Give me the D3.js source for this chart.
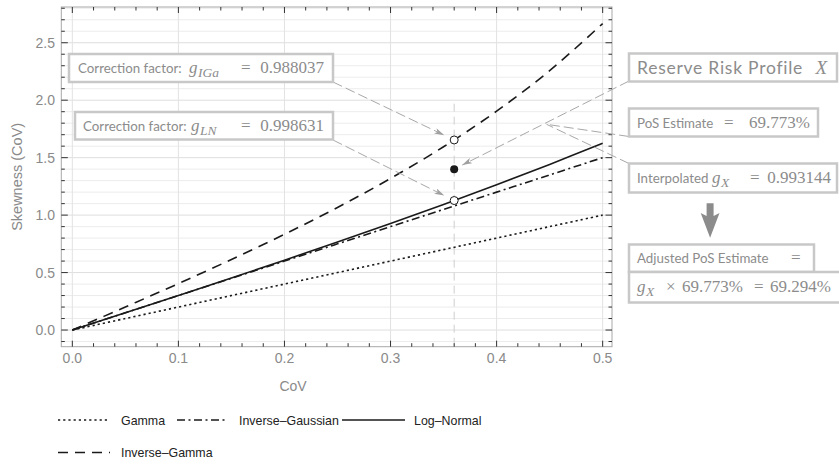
<!DOCTYPE html>
<html>
<head>
<meta charset="utf-8">
<script src="https://cdn.jsdelivr.net/npm/d3@7"></script>
<style>
  html, body { margin: 0; padding: 0; background: #fff; }
  svg { display: block; }
</style>
</head>
<body>
<svg id="chart" width="839" height="464"></svg>
<script>
// Skewness as a function of the coefficient of variation, per distribution
const cov         = [0, 0.05, 0.10, 0.15, 0.20, 0.25, 0.30, 0.35, 0.40, 0.45, 0.50];
const gamma       = [0, 0.100, 0.200, 0.300, 0.400, 0.500, 0.600, 0.700, 0.800, 0.900, 1.000];
const invGaussian = [0, 0.150, 0.300, 0.450, 0.600, 0.750, 0.900, 1.050, 1.200, 1.350, 1.500];
const logNormal   = [0, 0.150, 0.301, 0.453, 0.608, 0.766, 0.927, 1.093, 1.264, 1.441, 1.625];
const invGamma    = [0, 0.201, 0.404, 0.614, 0.833, 1.067, 1.319, 1.595, 1.905, 2.257, 2.667];

const seriesNames = ["Gamma", "Inverse\u2013Gaussian", "Log\u2013Normal", "Inverse\u2013Gamma"];

// Reserve risk profile X
const profileCoV   = 0.36;
const skewIGa      = 1.654;
const skewLN       = 1.127;
const skewProfile  = 1.40;

const xTicks = [0, 0.1, 0.2, 0.3, 0.4, 0.5];
const yTicks = [0, 0.5, 1.0, 1.5, 2.0, 2.5];
const xTickLabels = ["0.0", "0.1", "0.2", "0.3", "0.4", "0.5"];
const yTickLabels = ["0.0", "0.5", "1.0", "1.5", "2.0", "2.5"];

const svg = d3.select("#chart");
const L = 61.3, R = 612, T = 7, B = 346.7;

const x = d3.scaleLinear().domain([-0.0104, 0.5088]).range([L, R]);
const y = d3.scaleLinear().domain([-0.145, 2.811]).range([B, T]);

const dashes = {
  "Gamma": "2.2,3",
  "Inverse\u2013Gaussian": "8,3.5,2,3.5",
  "Log\u2013Normal": null,
  "Inverse\u2013Gamma": "10,7"
};
const seriesValues = [gamma, invGaussian, logNormal, invGamma];

// grid
const grid = svg.append("g");
const yMinor = d3.range(-1, 29).map(i => i / 10);
grid.selectAll(".gy").data(yMinor).join("line")
  .attr("x1", L).attr("x2", R)
  .attr("y1", d => y(d)).attr("y2", d => y(d))
  .attr("stroke", d => (Math.round(d * 10) % 5 === 0) ? "#dedede" : "#ececec")
  .attr("stroke-width", 1);
grid.selectAll(".gx").data(xTicks).join("line")
  .attr("y1", T).attr("y2", B)
  .attr("x1", d => x(d)).attr("x2", d => x(d))
  .attr("stroke", "#e2e2e2").attr("stroke-width", 1);

// profile guide line
svg.append("line")
  .attr("x1", x(profileCoV)).attr("x2", x(profileCoV))
  .attr("y1", y(1.97)).attr("y2", B)
  .attr("stroke", "#cfcfcf").attr("stroke-width", 1)
  .attr("stroke-dasharray", "8,5");

// frame
svg.append("rect").attr("x", L).attr("y", T).attr("width", R - L).attr("height", B - T)
  .attr("fill", "none").attr("stroke", "#a8a8a8").attr("stroke-width", 1);

// ticks on all four sides, pointing inward
const ticks = svg.append("g").attr("stroke", "#333").attr("stroke-width", 1);
const xMinor = d3.range(0, 26).map(i => i / 50);
const xMajorSet = new Set(xTicks.map(d => d.toFixed(2)));
const yMajorSet = new Set(yTicks.map(d => d.toFixed(1)));
xMinor.forEach(v => {
  const len = xMajorSet.has(v.toFixed(2)) ? 6 : 3.5;
  ticks.append("line").attr("x1", x(v)).attr("x2", x(v)).attr("y1", B).attr("y2", B - len);
  ticks.append("line").attr("x1", x(v)).attr("x2", x(v)).attr("y1", T).attr("y2", T + len);
});
yMinor.forEach(v => {
  const len = yMajorSet.has(v.toFixed(1)) ? 6.5 : 3.5;
  ticks.append("line").attr("y1", y(v)).attr("y2", y(v)).attr("x1", L).attr("x2", L + len);
  ticks.append("line").attr("y1", y(v)).attr("y2", y(v)).attr("x1", R).attr("x2", R - len);
});

// tick labels
const tickFont = "'Liberation Sans', Arial, sans-serif";
svg.append("g").selectAll("text").data(xTicks).join("text")
  .attr("x", d => x(d)).attr("y", 363)
  .attr("text-anchor", "middle")
  .attr("font-family", tickFont).attr("font-size", 14).attr("fill", "#8a8a8a")
  .text((d, i) => xTickLabels[i]);
svg.append("g").selectAll("text").data(yTicks).join("text")
  .attr("x", 55).attr("y", d => y(d) + 5)
  .attr("text-anchor", "end")
  .attr("font-family", tickFont).attr("font-size", 14).attr("fill", "#8a8a8a")
  .text((d, i) => yTickLabels[i]);

// axis titles
svg.append("text").attr("x", 293).attr("y", 391)
  .attr("text-anchor", "middle").attr("font-family", tickFont).attr("font-size", 14)
  .attr("fill", "#8a8a8a").text("CoV");
svg.append("text").attr("transform", `translate(22,${(T + B) / 2}) rotate(-90)`)
  .attr("text-anchor", "middle").attr("font-family", tickFont).attr("font-size", 14.5)
  .attr("fill", "#8a8a8a").text("Skewness (CoV)");

// curves
const line = d3.line().x(d => x(d[0])).y(d => y(d[1])).curve(d3.curveCatmullRom);
const curves = svg.append("g");
seriesNames.forEach((name, i) => {
  const pts = cov.map((c, j) => [c, seriesValues[i][j]]);
  curves.append("path").datum(pts)
    .attr("d", line)
    .attr("fill", "none").attr("stroke", "#1a1a1a").attr("stroke-width", 1.6)
    .attr("stroke-dasharray", dashes[name]);
});

// markers
svg.append("circle").attr("cx", x(profileCoV)).attr("cy", y(skewIGa)).attr("r", 4)
  .attr("fill", "#fff").attr("stroke", "#1a1a1a").attr("stroke-width", 1);
svg.append("circle").attr("cx", x(profileCoV)).attr("cy", y(skewLN)).attr("r", 4)
  .attr("fill", "#fff").attr("stroke", "#1a1a1a").attr("stroke-width", 1);
svg.append("circle").attr("cx", x(profileCoV)).attr("cy", y(skewProfile)).attr("r", 4)
  .attr("fill", "#1a1a1a");

// callouts
const defs = svg.append("defs");
defs.append("marker").attr("id", "head").attr("viewBox", "0 0 10 6")
  .attr("refX", 10).attr("refY", 3).attr("markerWidth", 10).attr("markerHeight", 6)
  .attr("markerUnits", "userSpaceOnUse").attr("orient", "auto")
  .append("path").attr("d", "M0,0 L10,3 L0,6 L2.5,3 Z").attr("fill", "#a0a0a0");

const callouts = svg.append("g");
function callout(x1, y1, x2, y2, gap, arrow) {
  const dx = x2 - x1, dy = y2 - y1, len = Math.hypot(dx, dy);
  const ex = x2 - dx / len * gap, ey = y2 - dy / len * gap;
  const l = callouts.append("line").attr("x1", x1).attr("y1", y1).attr("x2", ex).attr("y2", ey)
    .attr("stroke", "#a8a8a8").attr("stroke-width", 1).attr("stroke-dasharray", "10,4");
  if (arrow) l.attr("marker-end", "url(#head)");
}
callout(333, 82, x(profileCoV), y(skewIGa), 11, true);
callout(333, 140, x(profileCoV), y(skewLN), 11, true);
callout(629, 81, x(profileCoV), y(skewProfile), 9, true);
callout(629, 136.5, 546.5, 124.3, 0, false);
callout(629, 163.5, 546.5, 124.3, 0, false);

// annotation boxes
const sans = "Lato, 'Noto Sans', sans-serif";
const serif = "'Liberation Serif', 'DejaVu Serif', serif";
const boxes = svg.append("g");
function box(x0, y0, w, h) {
  boxes.append("rect").attr("x", x0).attr("y", y0).attr("width", w).attr("height", h)
    .attr("fill", "#fff").attr("stroke", "#c8c8c8").attr("stroke-width", 2.5);
}
// each piece: text, x, font kind, size, italic, subscript, anchor, letter spacing
function label(yb, parts) {
  parts.forEach(p => {
    boxes.append("text")
      .attr("x", p.x).attr("y", yb + (p.sub ? 4 : 0))
      .attr("fill", "#8c8c8c")
      .attr("font-family", p.f === "sans" ? sans : serif)
      .attr("font-size", p.s)
      .attr("font-style", p.it ? "italic" : "normal")
      .attr("text-anchor", p.end ? "end" : "start")
      .attr("letter-spacing", p.ls || 0)
      .text(p.t);
  });
}
const SANS = 13.3, MATH = 17, NUM = 17, SUB = 13.5;

box(69, 54, 264, 28);
label(73, [
  { t: "Correction factor:", x: 78, f: "sans", s: SANS },
  { t: "g", x: 189, f: "serif", s: MATH, it: true },
  { t: "IGa", x: 198, f: "serif", s: SUB, it: true, sub: true },
  { t: "=", x: 241, f: "serif", s: MATH },
  { t: "0.988037", x: 324, f: "serif", s: NUM, end: true }
]);

box(75, 112, 258, 27.5);
label(131, [
  { t: "Correction factor:", x: 83, f: "sans", s: SANS },
  { t: "g", x: 191, f: "serif", s: MATH, it: true },
  { t: "LN", x: 200, f: "serif", s: SUB, it: true, sub: true },
  { t: "=", x: 241, f: "serif", s: MATH },
  { t: "0.998631", x: 324, f: "serif", s: NUM, end: true }
]);

box(629, 53.5, 208, 28);
label(74, [
  { t: "Reserve Risk Profile", x: 637, f: "sans", s: 17.5, ls: 0.75 },
  { t: "X", x: 827, f: "serif", s: 19, it: true, end: true }
]);

box(629, 108.5, 189, 28);
label(128, [
  { t: "PoS Estimate", x: 637, f: "sans", s: SANS },
  { t: "=", x: 724, f: "serif", s: MATH },
  { t: "69.773%", x: 810, f: "serif", s: NUM, end: true }
]);

box(629, 163.5, 208, 29);
label(183, [
  { t: "Interpolated", x: 637, f: "sans", s: SANS },
  { t: "g", x: 712, f: "serif", s: MATH, it: true },
  { t: "X", x: 721, f: "serif", s: SUB, it: true, sub: true },
  { t: "=", x: 750, f: "serif", s: MATH },
  { t: "0.993144", x: 831, f: "serif", s: NUM, end: true }
]);

box(629, 244.5, 185, 27.5);
label(263, [
  { t: "Adjusted PoS Estimate", x: 637, f: "sans", s: SANS },
  { t: "=", x: 791, f: "serif", s: MATH }
]);

box(629, 272, 220, 30.5);
label(292, [
  { t: "g", x: 637, f: "serif", s: MATH, it: true },
  { t: "X", x: 646, f: "serif", s: SUB, it: true, sub: true },
  { t: "\u00d7", x: 666, f: "serif", s: MATH },
  { t: "69.773%", x: 682, f: "serif", s: NUM },
  { t: "=", x: 754, f: "serif", s: MATH },
  { t: "69.294%", x: 831, f: "serif", s: NUM, end: true }
]);

// step arrow between the estimates
svg.append("path")
  .attr("d", "M706.6,203.3 L713.6,203.3 L713.6,216 L719.5,213 L710.1,237.8 L700.7,213 L706.6,216 Z")
  .attr("fill", "#8c8c8c");

// legend
const legend = svg.append("g");
const legendItems = [
  { name: "Gamma", x0: 58, x1: 110, tx: 121, ty: 420 },
  { name: "Inverse\u2013Gaussian", x0: 177, x1: 227, tx: 239, ty: 420 },
  { name: "Log\u2013Normal", x0: 342, x1: 405, tx: 414, ty: 420 },
  { name: "Inverse\u2013Gamma", x0: 58, x1: 110, tx: 121, ty: 452.5 }
];
legendItems.forEach(it => {
  legend.append("line").attr("x1", it.x0).attr("x2", it.x1).attr("y1", it.ty).attr("y2", it.ty)
    .attr("stroke", "#1a1a1a").attr("stroke-width", 1.4)
    .attr("stroke-dasharray", dashes[it.name]);
  legend.append("text").attr("x", it.tx).attr("y", it.ty + 4.5)
    .attr("font-family", tickFont).attr("font-size", 12.4).attr("fill", "#222")
    .text(it.name);
});
</script>
</body>
</html>
